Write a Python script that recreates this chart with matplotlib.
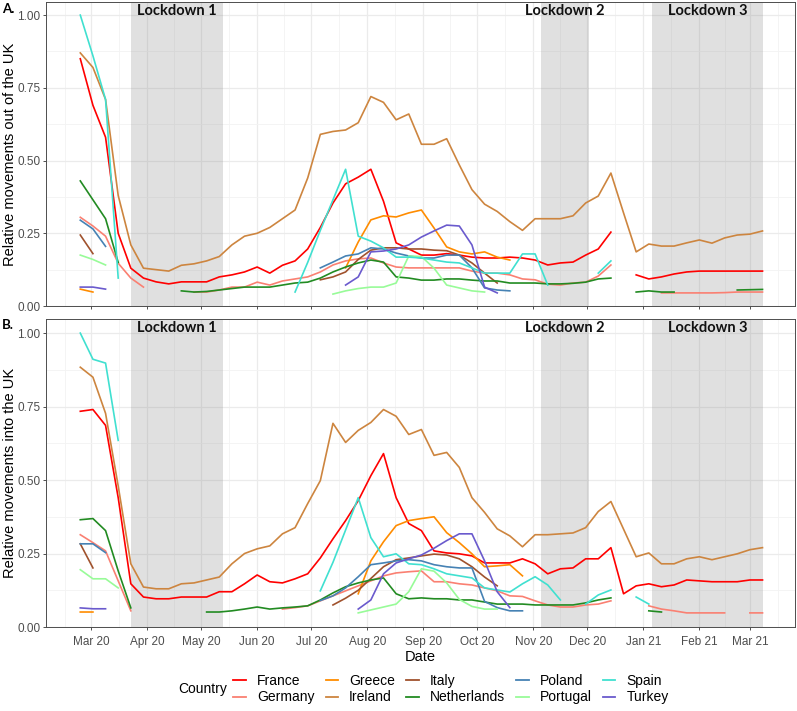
import numpy as np
import pandas as pd
import matplotlib
matplotlib.use("Agg")
import matplotlib.pyplot as plt
import matplotlib.transforms as mtransforms

# weekly observations, first week starts 24 Feb 2020
weeks = pd.date_range("2020-02-24", periods=55, freq="7D")

countries = ["France", "Germany", "Greece", "Ireland", "Italy",
             "Netherlands", "Poland", "Portugal", "Spain", "Turkey"]
colours = ["#FF0000", "#FA8072", "#FF8C00", "#CD853F", "#A0522D",
           "#228B22", "#4682B4", "#98FB98", "#40E0D0", "#6A5ACD"]

lockdowns = [("Lockdown 1", "2020-03-23", "2020-05-13"),
             ("Lockdown 2", "2020-11-05", "2020-12-02"),
             ("Lockdown 3", "2021-01-06", "2021-03-08")]

# values as {index of first week: run of weekly values}
# A. movements out of the UK
out_france = {0: [0.85, 0.69, 0.58, 0.25, 0.13, 0.096, 0.083, 0.076, 0.083, 0.083,
                  0.083, 0.10, 0.107, 0.117, 0.134, 0.113, 0.14, 0.155, 0.196, 0.27,
                  0.354, 0.42, 0.443, 0.47, 0.36, 0.217, 0.196, 0.175, 0.175, 0.18,
                  0.175, 0.168, 0.165, 0.165, 0.168, 0.165, 0.158, 0.141, 0.148, 0.151,
                  0.175, 0.196, 0.254],
              44: [0.107, 0.093, 0.10, 0.11, 0.117, 0.12, 0.12, 0.12, 0.12, 0.12, 0.12]}
out_germany = {0: [0.305, 0.275, 0.24, 0.147, 0.096, 0.065],
               9: [0.048, 0.048, 0.055, 0.065, 0.065, 0.082, 0.072, 0.086, 0.093, 0.10,
                   0.117, 0.141, 0.155, 0.162, 0.165, 0.148, 0.134, 0.131, 0.131, 0.131,
                   0.131, 0.131, 0.12, 0.113, 0.113, 0.107, 0.093, 0.09, 0.075, 0.072,
                   0.079, 0.082, 0.103, 0.141],
               46: [0.045, 0.045, 0.045, 0.045, 0.045, 0.046, 0.048, 0.048, 0.048]}
out_greece = {0: [0.058, 0.048],
              21: [0.131, 0.22, 0.296, 0.31, 0.306, 0.32, 0.33, 0.268, 0.203, 0.186,
                   0.179, 0.186, 0.168, 0.158]}
out_ireland = {0: [0.87, 0.82, 0.71, 0.38, 0.21, 0.13, 0.125, 0.12, 0.14, 0.145,
                   0.155, 0.17, 0.21, 0.24, 0.25, 0.27, 0.30, 0.33, 0.44, 0.59,
                   0.60, 0.605, 0.63, 0.72, 0.70, 0.64, 0.66, 0.556, 0.556, 0.575,
                   0.485, 0.40, 0.35, 0.325, 0.29, 0.26, 0.30, 0.30, 0.30, 0.31,
                   0.354, 0.378, 0.457, 0.32, 0.186, 0.213, 0.206, 0.206, 0.217, 0.227,
                   0.216, 0.234, 0.244, 0.247, 0.258]}
out_italy = {0: [0.244, 0.18],
             19: [0.09, 0.10, 0.117, 0.16, 0.192, 0.20, 0.20, 0.196, 0.196, 0.192,
                  0.19, 0.175, 0.148, 0.113, 0.079]}
out_netherlands = {0: [0.43, 0.365, 0.30, 0.15],
                   8: [0.052, 0.048, 0.05, 0.055, 0.06, 0.065, 0.065, 0.065, 0.072, 0.079,
                       0.082, 0.096, 0.117, 0.134, 0.148, 0.158, 0.151, 0.10, 0.096, 0.089,
                       0.089, 0.093, 0.093, 0.089, 0.086, 0.086, 0.079, 0.079, 0.079, 0.076,
                       0.076, 0.078, 0.082, 0.093, 0.096],
                   44: [0.048, 0.052, 0.048, 0.048],
                   52: [0.055, 0.056, 0.057]}
out_poland = {0: [0.295, 0.265, 0.205],
              19: [0.131, 0.151, 0.172, 0.179, 0.20, 0.196, 0.182, 0.172, 0.165, 0.165,
                   0.175, 0.175, 0.131, 0.062, 0.055, 0.052]}
out_portugal = {0: [0.175, 0.16, 0.141],
                20: [0.041, 0.052, 0.06, 0.065, 0.065, 0.079, 0.172, 0.17, 0.13, 0.072,
                     0.062, 0.052, 0.048]}
out_spain = {0: [1.00, 0.86, 0.71, 0.096],
             17: [0.048, 0.15, 0.26, 0.365, 0.47, 0.24, 0.223, 0.20, 0.168, 0.168,
                  0.165, 0.158, 0.151, 0.148, 0.131, 0.113, 0.113, 0.113, 0.179, 0.179,
                  0.072],
             41: [0.113, 0.155]}
out_turkey = {0: [0.065, 0.065, 0.058],
              21: [0.072, 0.10, 0.186, 0.189, 0.196, 0.21, 0.237, 0.258, 0.278, 0.275,
                   0.21, 0.065, 0.045]}

# B. movements into the UK
in_france = {0: [0.734, 0.74, 0.686, 0.44, 0.147, 0.102, 0.096, 0.096, 0.102, 0.102,
                 0.102, 0.12, 0.12, 0.147, 0.177, 0.154, 0.15, 0.164, 0.181, 0.235,
                 0.30, 0.362, 0.43, 0.515, 0.59, 0.44, 0.352, 0.328, 0.259, 0.252,
                 0.249, 0.242, 0.218, 0.218, 0.218, 0.232, 0.215, 0.181, 0.198, 0.201,
                 0.232, 0.232, 0.27, 0.113, 0.14, 0.147, 0.137, 0.143, 0.16, 0.157,
                 0.154, 0.154, 0.154, 0.16, 0.16]}
in_germany = {0: [0.314, 0.287, 0.259, 0.157, 0.055],
              16: [0.061, 0.066, 0.072, 0.089, 0.106, 0.123, 0.14, 0.157, 0.174, 0.184,
                   0.188, 0.191, 0.154, 0.154, 0.147, 0.143, 0.133, 0.123, 0.106, 0.104,
                   0.089, 0.075, 0.068, 0.068, 0.075, 0.078, 0.089],
              45: [0.072, 0.061, 0.055, 0.048, 0.048, 0.048, 0.048],
              53: [0.048, 0.048]}
in_greece = {0: [0.051, 0.051],
             22: [0.113, 0.225, 0.29, 0.345, 0.362, 0.369, 0.375, 0.321, 0.287, 0.249,
                  0.205, 0.208, 0.212, 0.174]}
in_ireland = {0: [0.884, 0.85, 0.727, 0.48, 0.215, 0.136, 0.13, 0.13, 0.147, 0.15,
                  0.16, 0.17, 0.215, 0.25, 0.266, 0.276, 0.317, 0.338, 0.42, 0.498,
                  0.693, 0.628, 0.669, 0.696, 0.74, 0.717, 0.655, 0.672, 0.584, 0.594,
                  0.543, 0.44, 0.39, 0.334, 0.31, 0.273, 0.314, 0.314, 0.317, 0.32,
                  0.338, 0.393, 0.427, 0.333, 0.239, 0.252, 0.215, 0.215, 0.232, 0.239,
                  0.229, 0.239, 0.249, 0.263, 0.27]}
in_italy = {0: [0.283, 0.201],
            20: [0.075, 0.098, 0.125, 0.165, 0.205, 0.229, 0.235, 0.242, 0.248, 0.245,
                 0.232, 0.205, 0.17, 0.14]}
in_netherlands = {0: [0.365, 0.369, 0.328, 0.191, 0.065],
                  10: [0.051, 0.051, 0.055, 0.061, 0.068, 0.061, 0.065, 0.068, 0.072, 0.092,
                       0.116, 0.137, 0.15, 0.16, 0.167, 0.113, 0.096, 0.099, 0.096, 0.096,
                       0.092, 0.092, 0.085, 0.078, 0.078, 0.078, 0.075, 0.075, 0.075, 0.075,
                       0.082, 0.092, 0.099],
                  45: [0.055, 0.051]}
in_poland = {0: [0.283, 0.283, 0.253],
             19: [0.09, 0.106, 0.133, 0.171, 0.212, 0.218, 0.225, 0.229, 0.225, 0.212,
                  0.205, 0.201, 0.201, 0.087, 0.066, 0.055, 0.055]}
in_portugal = {0: [0.195, 0.164, 0.164, 0.133],
               22: [0.048, 0.058, 0.068, 0.078, 0.12, 0.198, 0.19, 0.15, 0.094, 0.07,
                    0.061, 0.061]}
in_spain = {0: [1.0, 0.911, 0.898, 0.635],
            19: [0.123, 0.22, 0.33, 0.44, 0.304, 0.239, 0.249, 0.215, 0.212, 0.198,
                 0.181, 0.174, 0.167, 0.133, 0.126, 0.119, 0.147, 0.171, 0.143, 0.092],
            40: [0.078, 0.109, 0.126],
            44: [0.102, 0.078]}
in_turkey = {0: [0.065, 0.062, 0.062],
             22: [0.061, 0.092, 0.181, 0.218, 0.232, 0.245, 0.268, 0.294, 0.317, 0.317,
                  0.225, 0.12, 0.066]}

out_series = [out_france, out_germany, out_greece, out_ireland, out_italy,
              out_netherlands, out_poland, out_portugal, out_spain, out_turkey]
in_series = [in_france, in_germany, in_greece, in_ireland, in_italy,
             in_netherlands, in_poland, in_portugal, in_spain, in_turkey]


def expand(segments):
    y = np.full(len(weeks), np.nan)
    for start, vals in segments.items():
        y[start:start + len(vals)] = vals
    return y


TITLE_FONT = ["Lato", "DejaVu Sans"]
plt.rcParams["font.family"] = ["Liberation Sans", "DejaVu Sans"]

fig = plt.figure(figsize=(7.97, 7.11), dpi=100)
ax_out = fig.add_axes([46 / 797, 1 - 306 / 711, 749 / 797, 304 / 711])
ax_in = fig.add_axes([46 / 797, 1 - 627 / 711, 749 / 797, 308 / 711])

months = pd.date_range("2020-03-01", "2021-03-01", freq="MS")
edges = pd.date_range("2020-02-01", "2021-04-01", freq="MS")
mids = edges[:-1] + (edges[1:] - edges[:-1]) / 2

for ax, series, ylab, ytop in [(ax_out, out_series, "Relative movements out of the UK", 1.045),
                               (ax_in, in_series, "Relative movements into the UK", 1.048)]:
    ax.set_axisbelow(True)
    trans = mtransforms.blended_transform_factory(ax.transData, ax.transAxes)
    for name, start, end in lockdowns:
        t0, t1 = pd.Timestamp(start), pd.Timestamp(end)
        ax.axvspan(t0, t1, color="#808080", alpha=0.24, lw=0, zorder=1)
        ax.text(t0 + (t1 - t0) / 2, 0.992, name, transform=trans, ha="center", va="top",
                fontsize=10.5, fontweight="bold", family=TITLE_FONT, color="#111111")
    for seg, col in zip(series, colours):
        ax.plot(weeks, expand(seg), color=col, lw=1.2, zorder=3)

    ax.set_xlim(pd.Timestamp("2020-02-05"), pd.Timestamp("2021-03-26"))
    ax.set_ylim(0, ytop)
    ax.set_xticks(months)
    ax.set_xticks(mids, minor=True)
    ax.set_yticks([0, 0.25, 0.5, 0.75, 1.0])
    ax.set_yticks([0.125, 0.375, 0.625, 0.875], minor=True)
    ax.set_yticklabels(["0.00", "0.25", "0.50", "0.75", "1.00"])
    ax.grid(which="major", color="#EBEBEB", lw=0.9)
    ax.grid(which="minor", color="#F3F3F3", lw=0.6)
    ax.tick_params(which="major", length=2.5, width=0.6, color="#333333",
                   labelsize=8.5, labelcolor="#4D4D4D", pad=1.5)
    ax.tick_params(axis="x", which="major", pad=4)
    ax.tick_params(which="minor", length=0)
    for sp in ax.spines.values():
        sp.set_color("#4D4D4D")
        sp.set_linewidth(0.7)
    ax.set_ylabel(ylab, fontsize=10.5)
    ax.yaxis.set_label_coords(-0.039, 0.5)

ax_out.tick_params(axis="x", labelbottom=False)
ax_in.set_xticklabels([d.strftime("%b %y") for d in months])
ax_in.set_xlabel("Date", fontsize=10.5, labelpad=1.5)

fig.text(2 / 797, 1 - 9 / 711, "A.", fontsize=9.5, fontweight="bold",
         family=TITLE_FONT, va="center", ha="left")
fig.text(2 / 797, 1 - 325 / 711, "B.", fontsize=9.5, fontweight="bold",
         family=TITLE_FONT, va="center", ha="left")

handles = [plt.Line2D([], [], color=c, lw=1.3) for c in colours]
fig.legend(handles, countries, ncol=5, loc="center",
           bbox_to_anchor=(451 / 797, 1 - 689 / 711), frameon=False,
           fontsize=10, handlelength=0.9, handletextpad=0.8, columnspacing=0.8,
           labelspacing=0.2, borderpad=0)
fig.text(227 / 797, 1 - 689 / 711, "Country", fontsize=10, ha="right", va="center")

fig.savefig("out.png", dpi=100)
